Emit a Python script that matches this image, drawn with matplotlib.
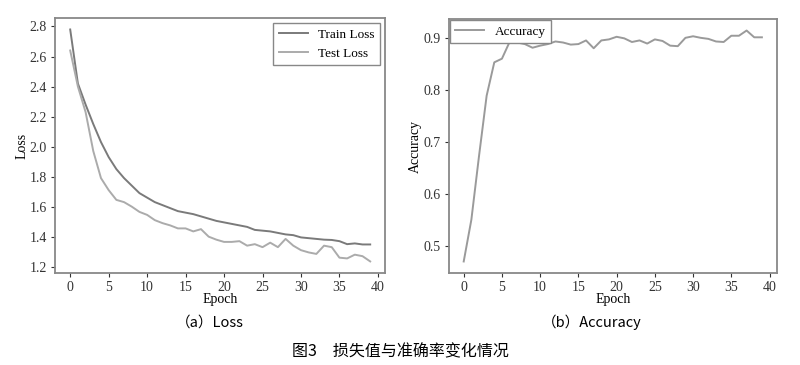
import matplotlib.pyplot as plt

epochs = list(range(40))

train_loss = [2.78, 2.42, 2.28, 2.15, 2.03, 1.93, 1.85, 1.79, 1.74, 1.69,
              1.66, 1.63, 1.61, 1.59, 1.57, 1.56, 1.55, 1.535, 1.52, 1.505,
              1.495, 1.485, 1.475, 1.465, 1.445, 1.44, 1.435, 1.425, 1.415, 1.41,
              1.395, 1.39, 1.385, 1.38, 1.378, 1.37, 1.35, 1.355, 1.348, 1.348]

test_loss = [2.64, 2.40, 2.23, 1.97, 1.79, 1.71, 1.645, 1.63, 1.60, 1.565,
             1.545, 1.51, 1.49, 1.475, 1.455, 1.455, 1.435, 1.45, 1.40, 1.38,
             1.365, 1.365, 1.37, 1.34, 1.35, 1.33, 1.36, 1.33, 1.385, 1.34,
             1.31, 1.295, 1.285, 1.34, 1.33, 1.26, 1.255, 1.28, 1.27, 1.235]

accuracy = [0.471, 0.551, 0.673, 0.789, 0.853, 0.86, 0.892, 0.891, 0.888, 0.881,
            0.885, 0.888, 0.893, 0.891, 0.887, 0.888, 0.895, 0.88, 0.895, 0.897,
            0.902, 0.899, 0.892, 0.895, 0.889, 0.897, 0.894, 0.885, 0.884, 0.90,
            0.903, 0.90, 0.898, 0.893, 0.892, 0.904, 0.904, 0.914, 0.901, 0.901]

serif = ['Liberation Serif', 'DejaVu Serif']
cjk = ['Noto Sans CJK SC', 'DejaVu Sans']

plt.rcParams['font.family'] = serif
plt.rcParams['font.size'] = 10

fig = plt.figure(figsize=(8, 3.65), dpi=100)
ax1 = fig.add_axes([0.069, 0.252, 0.4125, 0.699])
ax2 = fig.add_axes([0.561, 0.252, 0.41, 0.696])

ax1.plot(epochs, train_loss, color='#7a7a7a', lw=1.4, label='Train Loss')
ax1.plot(epochs, test_loss, color='#ababab', lw=1.4, label='Test Loss')
ax1.set_xlabel('Epoch', labelpad=-1)
ax1.set_ylabel('Loss', labelpad=1)
ax1.set_yticks([1.2, 1.4, 1.6, 1.8, 2.0, 2.2, 2.4, 2.6, 2.8])
ax1.legend(loc='upper right', fancybox=False, edgecolor='#888888', fontsize=9.5,
           framealpha=1, borderaxespad=0.4, handlelength=2.2)

ax2.plot(epochs, accuracy, color='#9a9a9a', lw=1.4, label='Accuracy')
ax2.set_xlabel('Epoch', labelpad=-1)
ax2.set_ylabel('Accuracy', labelpad=1)
ax2.set_yticks([0.5, 0.6, 0.7, 0.8, 0.9])
ax2.legend(loc='upper left', fancybox=False, edgecolor='#888888', fontsize=9.5,
           framealpha=1, borderaxespad=0.1, handlelength=2.2)

for ax in (ax1, ax2):
    ax.set_xticks([0, 5, 10, 15, 20, 25, 30, 35, 40])
    for s in ax.spines.values():
        s.set_color('#888888')
        s.set_linewidth(1.3)
    ax.tick_params(colors='#333333', length=3, width=0.8, pad=3)

fig.text(0.262, 0.117, '（a）Loss', ha='center', va='center', fontsize=10.5, family=cjk)
fig.text(0.74, 0.117, '（b）Accuracy', ha='center', va='center', fontsize=10.5, family=cjk)
fig.text(0.5, 0.035, '图3\u3000损失值与准确率变化情况', ha='center', va='center',
         fontsize=11.5, family=cjk)

fig.savefig('out.png', dpi=100)
